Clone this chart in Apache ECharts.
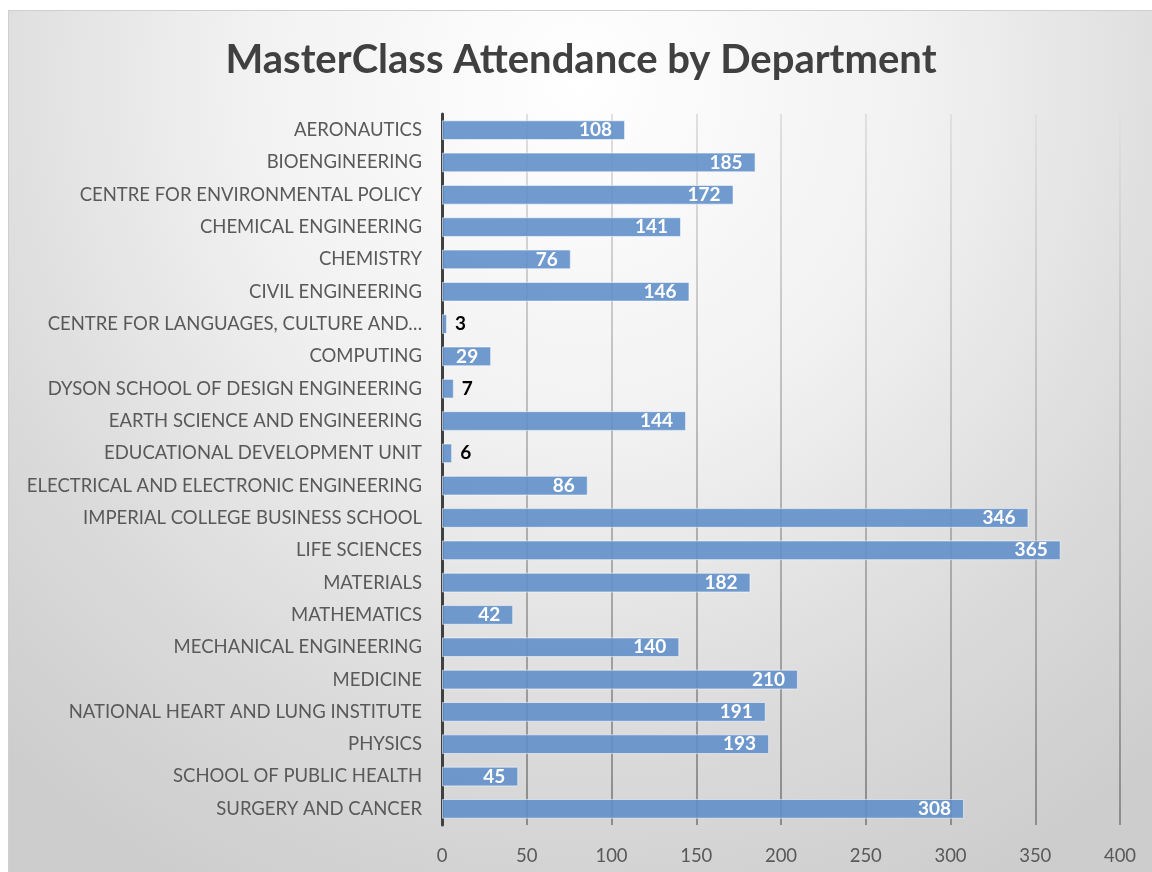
<!DOCTYPE html>
<html>
<head>
<meta charset="utf-8">
<title>MasterClass Attendance by Department</title>
<script src="https://cdn.jsdelivr.net/npm/echarts@6/dist/echarts.min.js"></script>
<style>
  html, body { margin: 0; padding: 0; background: #fff; }
  #chart {
    position: absolute;
    left: 8px;
    top: 10px;
    width: 1144px;
    height: 862px;
    border-top: 1px solid #cfcfcf;
    border-left: 1px solid #cfcfcf;
    background: radial-gradient(ellipse 75% 105% at 50% 8%, #ffffff 0%, #f1f1f1 40%, #dadada 75%, #cdcdcd 100%);
  }
</style>
</head>
<body>
<div id="chart"></div>
<script>
const departments = [
  'AERONAUTICS',
  'BIOENGINEERING',
  'CENTRE FOR ENVIRONMENTAL POLICY',
  'CHEMICAL ENGINEERING',
  'CHEMISTRY',
  'CIVIL ENGINEERING',
  'CENTRE FOR LANGUAGES, CULTURE AND…',
  'COMPUTING',
  'DYSON SCHOOL OF DESIGN ENGINEERING',
  'EARTH SCIENCE AND ENGINEERING',
  'EDUCATIONAL DEVELOPMENT UNIT',
  'ELECTRICAL AND ELECTRONIC ENGINEERING',
  'IMPERIAL COLLEGE BUSINESS SCHOOL',
  'LIFE SCIENCES',
  'MATERIALS',
  'MATHEMATICS',
  'MECHANICAL ENGINEERING',
  'MEDICINE',
  'NATIONAL HEART AND LUNG INSTITUTE',
  'PHYSICS',
  'SCHOOL OF PUBLIC HEALTH',
  'SURGERY AND CANCER',
];
const attendance = [108, 185, 172, 141, 76, 146, 3, 29, 7, 144, 6, 86, 346, 365, 182, 42, 140, 210, 191, 193, 45, 308];

const FONT = 'Lato, "Open Sans", sans-serif';

const chart = echarts.init(document.getElementById('chart'));

// small bars can't hold their label, Excel puts those outside in black
const barData = attendance.map((v) => {
  if (v >= 10) {
    return v;
  }
  return {
    value: v,
    label: { position: 'right', distance: 8, color: '#000' },
  };
});

chart.setOption({
  backgroundColor: 'transparent',
  title: {
    text: 'MasterClass Attendance by Department',
    left: 'center',
    top: 24,
    textStyle: {
      fontFamily: FONT,
      fontSize: 40,
      fontWeight: 'bold',
      color: '#404040',
    },
  },
  grid: {
    left: 433,
    right: 33,
    top: 103,
    bottom: 48,
  },
  xAxis: {
    type: 'value',
    min: 0,
    max: 400,
    interval: 50,
    axisLine: { show: false },
    axisTick: { show: false },
    axisLabel: {
      margin: 22,
      fontFamily: FONT,
      fontSize: 18.5,
      color: '#595959',
    },
    splitLine: {
      show: true,
      lineStyle: {
        width: 2,
        color: {
          type: 'linear',
          x: 0, y: 103, x2: 0, y2: 814,
          global: true,
          colorStops: [
            { offset: 0, color: '#e0e0e0' },
            { offset: 1, color: '#8c8c8c' },
          ],
        },
      },
    },
  },
  yAxis: {
    type: 'category',
    data: departments,
    inverse: true,
    axisLine: { show: true, lineStyle: { color: '#404040', width: 3 } },
    axisTick: { show: false },
    axisLabel: {
      margin: 20,
      fontFamily: FONT,
      fontSize: 18.5,
      color: '#595959',
    },
  },
  series: [
    {
      type: 'bar',
      data: barData,
      barWidth: '61%',
      itemStyle: {
        color: 'rgba(98, 144, 201, 0.9)',
        borderColor: 'rgba(255, 255, 255, 0.55)',
        borderWidth: 1,
      },
      label: {
        show: true,
        position: 'insideRight',
        distance: 13,
        fontFamily: FONT,
        fontSize: 19,
        fontWeight: 'bold',
        color: '#fff',
      },
      animation: false,
    },
  ],
});
</script>
</body>
</html>
